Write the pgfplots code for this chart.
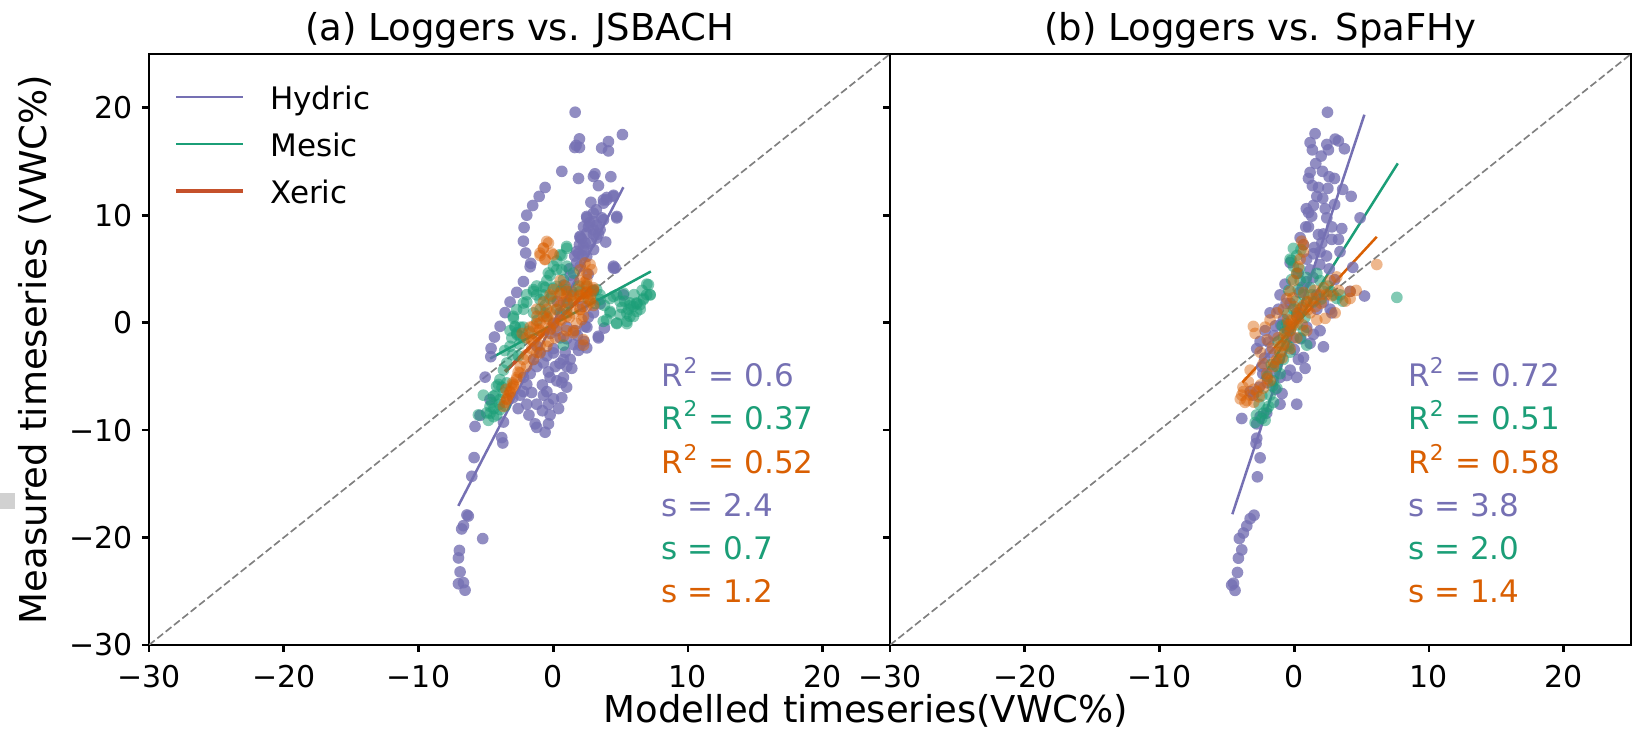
\documentclass[border=0pt]{standalone}
\usepackage{fontspec}
\setmainfont{DejaVu Sans}
\usepackage{pgfplots}
\pgfplotsset{compat=1.18}

\definecolor{hyd}{HTML}{7570B3}
\definecolor{mes}{HTML}{1B9E77}
\definecolor{xer}{HTML}{D95F02}
\definecolor{xerdk}{HTML}{C5512B}
\definecolor{oneone}{HTML}{808080}

\newcommand{\tickfont}{\fontsize{9}{10}\selectfont}
\newcommand{\annfont}{\fontsize{9.3}{11}\selectfont}
\newcommand{\labfont}{\fontsize{11.1}{13}\selectfont}

\tikzset{ann/.style={anchor=base west, font=\annfont}}

\pgfplotsset{
  panel/.style={
    scale only axis, width=222.3pt, height=177.3pt,
    xmin=-30, xmax=25, ymin=-30, ymax=25,
    xtick={-30,-20,-10,0,10,20}, ytick={-30,-20,-10,0,10,20},
    xticklabels={−30,−20,−10,0,10,20},
    xtick pos=left, ytick pos=left, tick align=outside,
    major tick length=2.1pt,
    tick style={black, line width=0.8pt},
    axis line style={line width=0.8pt},
    tick label style={font=\tickfont, inner sep=0pt},
    xticklabel style={anchor=north, yshift=-3.9pt},
    yticklabel style={anchor=east, xshift=-2.7pt},
    title style={font=\labfont, at={(0.5,1)}, anchor=base, yshift=-2.1pt},
  },
  hydpt/.style={only marks, mark=*, mark size=1.75pt,
    mark options={fill=hyd, draw opacity=0, fill opacity=0.8}},
  mespt/.style={only marks, mark=*, mark size=1.75pt,
    mark options={fill=mes, draw opacity=0, fill opacity=0.55}},
  xerpt/.style={only marks, mark=*, mark size=1.75pt,
    mark options={fill=xer, draw opacity=0, fill opacity=0.45}},
  one2one/.style={oneone, line width=0.5pt, dash pattern=on 2.2pt off 1pt},
}

\begin{document}
\begin{tikzpicture}
\path[use as bounding box] (0,0) rectangle (489.6pt,219.3pt);
\fill[black!18] (0pt,66.6pt) rectangle (4.5pt,71.4pt);

% (a) loggers vs JSBACH
\begin{axis}[panel, at={(44.7pt,25.8pt)}, anchor=south west,
  title={(a) Loggers vs. JSBACH},
  yticklabels={−30,−20,−10,0,10,20},
  xlabel={Modelled timeseries(VWC\%)},
  ylabel={Measured timeseries (VWC\%)},
  label style={font=\labfont},
  xlabel style={at={(axis description cs:0.9676,-0.1117)}, anchor=center},
  ylabel style={at={(axis description cs:-0.1538,0.5)}, anchor=center},
  legend style={at={(axis description cs:0.0337,0.9455)}, anchor=north west,
    draw=none, fill=none, inner sep=0pt, font=\annfont,
    row sep=5pt, column sep=7.5pt,
    nodes={inner sep=0pt, text height=6.8pt, text depth=2.3pt}},
  legend cell align=left,
  legend image code/.code={\draw[#1] (0pt,1.6pt) -- (20.1pt,1.6pt);},
]
\addlegendimage{hyd, line width=0.7pt}\addlegendentry{Hydric}
\addlegendimage{mes, line width=0.7pt}\addlegendentry{Mesic}
\addlegendimage{xerdk, line width=1.1pt}\addlegendentry{Xeric}

\addplot[one2one] coordinates {(-30,-30) (25,25)};

\addplot[hydpt] coordinates {
(1.63,19.58) (1.95,17.10) (1.70,16.50) (1.95,16.30) (1.60,16.30) (3.60,16.25) (4.10,16.85) (4.10,15.98)
(5.14,17.50) (0.64,14.08) (1.88,13.42) (2.99,13.60) (3.10,13.85) (3.36,12.75) (4.28,13.58)
(-0.60,12.58) (-1.04,11.75) (-1.52,10.90) (-1.96,10.00) (-2.16,8.85) (-2.21,7.58) (-2.04,6.48)
(-1.66,5.52) (-1.71,5.20) (-2.21,3.82) (-2.70,2.82) (-3.20,1.92) (-3.57,0.93) (-3.94,-0.34)
(-4.36,-1.34) (-4.61,-2.40) (-4.63,-3.17) (-5.05,-5.07) (-5.43,-8.63) (-5.80,-9.66) (-3.82,-10.70)
(-3.74,-11.20) (-5.87,-12.56) (-6.04,-14.30) (-6.40,-17.90) (-6.30,-18.00) (-6.66,-18.90) (-6.79,-19.20)
(-5.23,-20.10) (-6.96,-21.20) (-7.03,-21.90) (-6.91,-23.20) (-7.03,-24.30) (-6.66,-24.20) (-6.54,-24.90)
(-4.69,-7.16)
(2.50,9.75) (2.25,8.92) (2.62,8.92) (3.24,9.08) (2.99,8.25) (3.36,8.25) (2.00,7.92) (2.37,7.42)
(1.95,7.25) (2.25,6.75) (1.88,6.42) (2.13,6.25) (1.75,5.58) (2.00,5.25) (1.26,4.42) (1.50,3.92)
(4.60,5.08) (5.22,2.58) (3.73,11.42) (3.98,11.65) (4.48,11.85) (3.61,9.75) (4.72,9.75) (3.48,1.75)
(2.99,0.92) (3.36,-1.42) (2.30,-1.75) (2.00,-2.09) (1.88,-2.58) (1.99,8.02) (2.49,8.33) (2.98,8.64)
(2.24,7.09) (2.74,7.40) (3.23,7.87) (3.48,8.64) (1.75,6.63) (2.49,6.16) (3.73,9.57) (2.49,9.88)
(2.98,10.19) (3.97,11.43) (4.47,11.74) (3.73,11.12) (4.72,9.88) (4.47,5.08) (3.35,-1.27) (2.49,-2.35)
(1.50,-2.04) (0.76,-3.44) (0.01,-2.82) (2.36,-0.34)
(0.52,-1.42) (0.02,-2.42) (-0.47,-3.09) (-0.72,-3.75) (-1.22,-4.09) (-1.71,-4.75) (-1.96,-5.75)
(-2.21,-6.42) (-2.45,-6.75) (-0.23,-5.09) (0.27,-5.42) (0.76,-5.09) (1.01,-4.09) (1.26,-3.42)
(-0.47,-6.42) (-0.72,-6.75) (0.02,-7.09) (0.64,-6.99) (-1.96,-7.59) (-1.22,-7.59) (-0.35,-7.59)
(-0.23,-8.59) (-1.34,-9.42) (-1.22,-9.75) (-0.35,-9.42) (-3.69,-9.25) (-2.21,-5.09) (-1.46,-3.42)
(-0.97,-2.75) (0.89,-2.75) (1.38,-4.25) (0.64,-5.59) (0.15,-4.09) (-0.35,-4.59)
(0.02,-0.09) (0.52,0.91) (1.01,1.91) (1.38,2.91) (0.27,-0.75) (1.63,-0.75) (2.50,-0.42) (1.01,-0.42)
(4.48,5.25) (2.99,9.42)
(0.30,2.00) (0.80,3.50) (1.20,5.00) (1.60,6.20) (2.10,7.80) (2.70,9.30) (3.20,10.50) (2.80,11.20)
(1.00,-1.50) (1.80,-1.20) (2.60,0.50) (2.20,1.50) (3.00,3.00) (0.50,-3.80) (1.00,-6.00) (-0.80,-5.80)
(-1.60,-6.50) (-2.60,-8.00) (-1.80,-8.60) (-0.80,-8.20) (0.40,-8.00) (-0.60,-10.20) (-3.00,-7.00)
(-1.20,-2.20) (-0.20,-1.00) (3.90,7.50) (3.00,6.80) (2.60,4.50) (3.80,-0.50)
};

\addplot[mespt] coordinates {
(1.01,6.91) (0.64,6.25) (0.27,5.75) (-0.23,4.42) (-0.60,3.25) (-1.22,2.58) (-1.96,1.92) (-2.21,1.25)
(-1.46,2.91) (-0.72,2.58) (-0.23,2.25) (0.27,1.25) (1.01,0.91) (1.50,2.58) (2.00,2.91) (2.50,3.41)
(2.99,2.91) (3.48,2.58) (4.23,2.25) (4.72,2.58) (5.22,2.75) (5.71,1.58) (6.21,1.75) (6.70,2.25)
(6.95,3.58) (7.20,2.58) (6.46,1.25) (5.96,0.58) (5.47,-0.09) (4.72,-0.09) (4.23,0.91) (4.97,0.75)
(5.59,1.25) (-2.95,0.42) (-2.83,-0.42) (-2.70,-1.09) (-2.45,-0.42) (-3.20,-0.75) (-3.07,-1.42)
(-2.21,-1.42) (-2.58,-3.09) (-3.44,-3.75) (-3.69,-4.42) (-4.06,-5.75) (-4.31,-6.75) (-4.56,-7.42)
(-4.68,-8.42) (-4.43,-8.75) (-4.19,-8.59) (-3.94,-8.09) (-3.57,-7.75) (-4.81,-9.09) (-1.22,3.41)
(-0.47,3.91) (0.02,5.25) (0.64,4.91) (1.01,5.25) (0.76,-2.09) (-0.97,1.25) (-0.47,0.58) (-1.46,0.91)
(-2.21,-0.42) (-5.55,-8.59) (-5.18,-6.75)
(5.70,1.83) (5.95,1.52) (6.20,1.83) (6.45,1.67) (6.69,2.14) (6.94,2.60) (7.07,3.53) (7.19,2.60)
(6.20,1.05) (5.46,0.90) (5.70,0.59) (4.72,-0.03) (5.46,0.12) (4.47,2.45) (4.96,1.98) (3.97,0.28)
(3.72,0.12) (4.22,1.05) (3.48,2.14) (3.23,3.07)
(1.00,7.09) (0.51,6.32) (0.26,4.93) (-0.36,4.62) (-0.73,3.38) (-1.47,3.07) (-1.97,2.60) (-2.21,1.83)
(-2.71,1.21) (-2.96,0.59) (-2.83,-0.34) (-2.71,-0.96) (-2.46,-1.27) (-3.20,-2.20) (0.26,3.38)
(0.76,4.00) (1.50,4.62) (-0.11,2.45) (-0.98,2.14) (-0.61,0.90) (1.00,3.07)
(-3.95,-5.30) (-4.20,-5.92) (-4.44,-6.85) (-4.69,-7.78) (-3.95,-7.16) (-3.70,-6.54) (-3.45,-5.61)
(-4.94,-8.40)
(-3.60,-2.60) (-3.00,-3.00) (-2.50,-2.00) (-1.80,-0.80) (-1.20,0.20) (-0.60,1.60) (0.00,3.20)
(0.60,3.00) (1.10,1.80) (1.90,3.40) (2.60,2.20) (3.10,1.80) (3.80,1.60) (5.10,1.40) (6.00,2.60)
(6.60,3.00) (5.30,2.00) (-4.40,-8.00) (-4.00,-7.60) (-3.80,-6.00)
};

\addplot[xerpt] coordinates {
(-0.35,7.41) (-0.72,6.91) (-0.97,6.25) (-0.60,5.91) (0.02,6.31) (2.74,5.41) (2.00,3.91) (2.50,4.58)
(-1.22,-0.09) (-0.97,-0.75) (-0.72,0.58) (-0.47,1.25) (-0.23,0.91) (0.02,1.92) (0.52,2.58) (1.01,2.91)
(1.50,1.92) (2.00,2.58) (2.25,2.25) (2.50,2.91) (2.74,1.92) (2.00,1.25) (2.25,0.58) (1.75,-0.09)
(1.50,-0.75) (1.01,1.25) (0.52,1.58) (-0.23,2.58) (-0.72,1.92) (-1.22,1.25) (-1.71,-0.42) (-1.96,-1.42)
(-1.46,-1.75) (-0.97,-2.09) (-2.21,-3.42) (-2.45,-4.09) (-2.70,-5.09) (-2.95,-5.75) (-3.20,-6.42)
(-3.44,-7.09) (-3.57,-7.42) (-3.32,-6.75) (-3.07,-6.09) (2.50,3.58) (2.37,2.75) (0.52,3.91) (0.89,3.41)
(0.15,-1.42) (-0.35,-1.75) (-1.59,-2.42) (-1.22,-2.75) (2.99,3.25) (2.00,4.91) (1.01,-0.75) (2.25,-2.09)
(-0.48,7.56) (-0.73,6.94) (-0.98,6.47) (-0.61,5.86) (-0.11,6.47)
(0.01,3.07) (0.51,2.76) (1.00,2.45) (1.50,2.14) (1.99,2.45) (2.49,2.76) (2.74,2.14) (2.49,1.52)
(1.99,1.21) (1.50,0.90) (1.00,0.59) (0.51,0.28) (0.01,-0.03) (-0.48,0.28) (-0.98,-0.03) (-1.47,-0.34)
(-1.72,-0.96) (-1.22,-1.27) (-0.73,-0.96) (-0.23,-0.65) (0.26,-0.34) (0.76,-1.27) (-0.48,-2.20)
(-0.98,-2.82) (-1.47,-3.44) (-1.97,-4.06) (-2.46,-4.68) (-2.71,-5.30) (-2.96,-5.92) (-3.20,-6.54)
(-3.45,-7.16) (2.36,5.55) (2.86,4.93) (2.49,4.00) (2.98,3.07) (2.12,0.28) (2.24,-1.58) (1.50,-0.96)
(-3.70,-7.80) (-3.50,-6.20) (-3.00,-5.60) (-2.60,-4.60) (-2.00,-3.00) (-1.60,-1.60) (-1.00,-0.60)
(-0.40,0.40) (0.20,1.20) (0.80,1.90) (1.30,2.50) (1.80,3.10) (2.30,3.70) (2.80,2.60) (3.00,1.60)
(-0.20,-0.50) (0.60,0.20) (1.20,0.50) (-1.20,0.60) (-2.30,-1.00)
};

\addplot[hyd, line width=0.75pt] coordinates {(-7.04,-17.05) (5.21,12.60)};
\addplot[mes, line width=0.75pt] coordinates {(-4.68,-3.34) (7.25,4.76)};
\addplot[xerdk, line width=1.1pt] coordinates {(-3.57,-4.56) (2.86,3.33)};

\node[ann, text=hyd] at (axis cs:7.2,-5.95) {R\textsuperscript{2} = 0.6};
\node[ann, text=mes] at (axis cs:7.2,-9.94) {R\textsuperscript{2} = 0.37};
\node[ann, text=xer] at (axis cs:7.2,-14.03) {R\textsuperscript{2} = 0.52};
\node[ann, text=hyd] at (axis cs:7.2,-18.03) {s = 2.4};
\node[ann, text=mes] at (axis cs:7.2,-22.03) {s = 0.7};
\node[ann, text=xer] at (axis cs:7.2,-26.02) {s = 1.2};
\end{axis}

% (b) loggers vs SpaFHy
\begin{axis}[panel, at={(267pt,25.8pt)}, anchor=south west,
  title={(b) Loggers vs. SpaFHy},
  yticklabels={},
]
\addplot[one2one] coordinates {(-30,-30) (25,25)};

\addplot[hydpt] coordinates {
(2.47,19.58) (1.55,17.58) (1.18,16.75) (1.35,16.08) (2.42,16.58) (2.54,16.08) (3.04,17.08) (3.28,16.91)
(3.73,16.18) (1.18,13.98) (1.06,13.42) (2.10,14.08) (2.59,13.58) (2.99,13.42)
(1.35,12.75) (1.80,12.58) (1.68,11.75) (2.12,11.58) (1.43,10.91) (1.06,10.25) (1.30,9.91) (0.86,8.91)
(1.06,8.91) (0.44,7.91) (0.69,7.25) (4.23,11.75) (4.89,9.75) (3.53,8.75) (2.79,8.91) (2.42,9.75)
(2.17,8.25) (2.05,7.42) (2.79,7.75) (3.29,7.75) (1.92,6.58) (1.43,6.41) (0.93,5.91) (1.18,4.91)
(-0.30,5.58) (-0.68,3.58) (-1.05,2.58) (-1.17,1.25) (-1.79,0.91) (-2.16,-0.75) (-2.78,-2.42)
(-2.53,-1.75) (-2.41,-4.09) (-2.33,-4.75) (-3.03,-6.75) (-3.27,-6.42) (-3.89,-8.92) (-2.78,-9.42)
(-2.53,-8.75) (-2.04,-8.42) (0.19,-7.59) (-1.05,-7.59) (-2.78,-10.75) (-2.83,-11.25) (-2.53,-12.58)
(-2.73,-14.35) (-2.98,-17.92) (-3.27,-18.25) (-3.52,-18.92) (-3.77,-19.58) (-4.07,-20.09)
(-3.89,-21.15) (-4.14,-21.92) (-4.21,-23.25) (-4.64,-24.42) (-4.39,-24.92) (-4.51,-24.25)
(4.35,5.15) (5.22,2.48) (2.17,-2.25) (1.18,-1.92) (0.69,-3.25) (0.31,-3.42) (-0.30,-4.42)
(-0.55,-4.92) (0.19,-5.09) (0.81,-4.25)
(1.68,1.25) (1.92,-0.75) (0.93,-0.42) (0.19,0.91) (-0.06,-1.42) (1.68,2.58) (2.17,1.92) (2.67,1.25)
(4.15,2.91) (2.79,0.91) (1.43,-1.09) (-1.79,-2.75) (-1.29,-3.75) (-1.05,-5.09)
(1.50,7.00) (1.80,8.20) (2.30,10.60) (0.30,4.60) (0.60,3.30) (-0.60,1.80) (-1.40,-0.30)
(-0.80,0.30) (-0.50,-0.60) (0.00,-2.50) (0.50,-1.50) (-1.50,-1.20) (-1.00,-0.20) (-0.30,1.80)
(0.40,2.80) (0.90,3.80) (1.40,4.20) (1.90,5.40) (2.40,6.20) (2.60,5.00) (3.00,4.00) (3.40,6.60)
(-1.60,-4.60) (-2.00,-5.60) (-2.60,-6.00) (-1.40,-6.20) (-0.90,-6.60) (-2.20,-3.30) (-1.90,-1.80)
(0.90,10.60) (1.60,14.80) (2.00,15.50) (3.60,12.40) (3.00,11.00) (2.50,12.50)
};

\addplot[mespt] coordinates {
(7.62,2.35) (-0.06,6.91) (0.19,6.25) (-0.30,5.91) (-0.06,5.25) (0.19,4.58) (0.44,3.91) (0.69,2.58)
(0.93,1.92) (-0.06,1.25) (0.19,0.58) (-0.55,-0.09) (-0.30,-0.75) (-0.80,-1.42) (-0.55,-2.09)
(-1.05,-2.75) (-0.80,-3.42) (-1.29,-4.09) (-1.05,-4.75) (-1.54,-5.42) (-1.29,-6.09) (-1.79,-6.75)
(-1.54,-7.42) (-2.04,-8.09) (-2.28,-8.42) (-2.16,-9.09) (-2.41,-8.92) (2.91,2.58) (3.16,2.25)
(3.41,2.58) (1.68,4.58) (1.92,3.91) (1.18,3.25) (1.43,1.92) (2.17,2.91) (0.69,-0.75) (0.44,-1.42)
(0.93,-2.09) (-0.30,-2.75)
(-0.20,4.00) (0.40,5.00) (-0.40,3.00) (0.10,2.00) (-0.70,-0.80) (-1.10,-3.40) (-1.60,-5.90)
(-1.90,-7.80) (0.80,0.50) (2.50,3.40)
(-0.50,0.80) (0.20,-0.20) (-0.90,-0.30) (-1.20,-1.80) (-1.70,-3.90) (-2.00,-5.00) (-2.40,-6.80)
(-2.60,-7.60) (-2.80,-8.60) (-2.90,-9.30) (0.30,3.10) (0.90,4.20) (-0.20,5.80) (0.50,6.80)
(1.30,2.60) (2.00,2.20) (2.70,2.90) (3.60,2.00) (0.60,1.40) (-0.40,-2.20)
};

\addplot[xerpt] coordinates {
(-3.89,-6.75) (-3.52,-7.25) (-3.27,-6.75) (-2.78,-6.42) (-2.28,-6.09) (-1.79,-5.42) (-2.04,-4.75)
(-1.54,-4.09) (-1.29,-3.42) (-1.05,-2.75) (-0.80,-2.09) (-0.55,-1.42) (-0.30,-0.75) (-0.06,-0.09)
(0.19,0.58) (0.44,1.25) (0.93,1.92) (1.43,2.25) (1.92,2.58) (2.17,3.25) (2.67,3.91) (3.16,4.25)
(4.15,2.91) (4.15,2.25) (3.04,0.91) (6.13,5.41) (-3.03,-0.35) (-2.53,-2.75) (-2.16,-0.42)
(-1.79,0.25) (-1.29,0.91) (-0.80,1.25) (-0.55,2.25) (-0.30,2.91) (-0.06,3.91) (0.19,4.58)
(0.44,5.91) (0.69,6.58) (0.69,7.25) (0.56,7.58) (1.18,0.91) (1.68,0.25) (0.93,-0.75) (0.19,-1.42)
(-0.30,-2.42) (-3.27,-4.42) (-3.77,-6.42) (-3.65,-7.42)
(-1.50,-3.70) (-1.00,-2.20) (-0.70,-1.00) (-0.20,0.20) (0.30,0.90) (0.70,1.60) (1.20,2.00)
(-2.50,-5.80) (-3.00,-6.20) (-2.00,-5.20) (0.00,1.50) (-0.50,0.30) (1.50,3.00) (2.40,2.60)
(-0.20,-0.40) (0.30,0.40) (0.60,-0.20) (1.00,1.20) (1.60,1.50) (2.00,1.80) (2.80,2.50) (3.30,3.00)
(-1.20,-1.40) (-1.60,-2.40) (-0.90,-3.30) (-2.30,-3.80) (-3.40,-5.50) (-3.80,-6.00) (-4.00,-7.10)
(-3.00,-7.40) (-2.60,-6.90) (-0.40,-0.20) (0.70,2.80) (-0.10,2.30) (0.30,5.20) (4.60,3.00)
(3.80,2.00) (2.30,0.40) (-2.90,-1.00) (-2.00,-1.60)
};

\addplot[hyd, line width=0.75pt] coordinates {(-4.59,-17.83) (5.21,19.35)};
\addplot[mes, line width=0.75pt] coordinates {(-2.41,-5.23) (7.69,14.82)};
\addplot[xer, line width=0.75pt] coordinates {(-3.85,-5.57) (6.13,7.99)};

\node[ann, text=hyd] at (axis cs:7.6,-5.95) {R\textsuperscript{2} = 0.72};
\node[ann, text=mes] at (axis cs:7.6,-9.94) {R\textsuperscript{2} = 0.51};
\node[ann, text=xer] at (axis cs:7.6,-14.03) {R\textsuperscript{2} = 0.58};
\node[ann, text=hyd] at (axis cs:7.6,-18.03) {s = 3.8};
\node[ann, text=mes] at (axis cs:7.6,-22.03) {s = 2.0};
\node[ann, text=xer] at (axis cs:7.6,-26.02) {s = 1.4};
\end{axis}
\end{tikzpicture}
\end{document}
